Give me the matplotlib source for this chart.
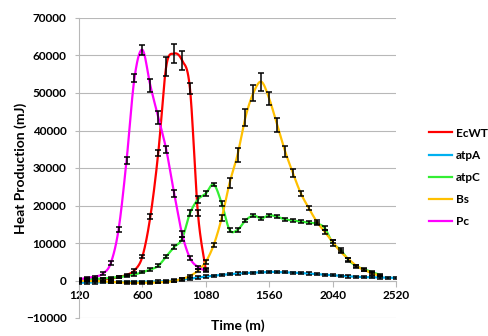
import numpy as np
import matplotlib
matplotlib.use("Agg")
import matplotlib.pyplot as plt

plt.rcParams["font.family"] = ["Lato", "DejaVu Sans"]
plt.rcParams["font.weight"] = "bold"

# sampling times (min), 60 min apart
t_short = list(range(120, 1081, 60))      # EcWT, Pc
t_long = list(range(120, 2401, 60))       # atpC, Bs
t_full = list(range(120, 2521, 60))       # atpA

ecwt = [0, 100, 200, 300, 500, 900, 1500, 2700, 6400, 17000, 34000, 57000,
        60500, 58700, 51200, 18000, 3000]
ecwt_err = [300, 300, 300, 300, 300, 300, 300, 400, 500, 700, 900, 2500,
            2600, 2600, 1500, 900, 400]

pc = [300, 700, 1000, 1800, 4600, 13700, 32000, 54000, 61500, 52000, 43500,
      35000, 23300, 12500, 6000, 3600, 2600]
pc_err = [300, 300, 300, 400, 500, 700, 1000, 1150, 1300, 1850, 1750, 1000,
          900, 800, 500, 400, 400]

atpc = [200, 300, 400, 500, 700, 900, 1200, 1600, 2200, 2900, 3900, 6400,
        8900, 11100, 17900, 21600, 23200, 25600, 20600, 13500, 13500, 16000,
        17300, 16600, 17400, 17000, 16300, 16000, 15700, 15400, 15200, 14000,
        10000, 8200, 5500, 3800, 3000, 2200, 1500]
atpc_err = [300, 300, 300, 300, 300, 300, 300, 300, 300, 400, 400, 500,
            500, 600, 800, 900, 600, 500, 700, 500, 500, 500, 400, 400, 400,
            400, 400, 400, 400, 400, 400, 500, 700, 600, 500, 400, 400, 300, 300]

bs = [0, -100, -200, -300, -400, -500, -600, -600, -600, -600, -500, -400,
      -100, 400, 1200, 2600, 5000, 9500, 16600, 26000, 33500, 43500, 50000,
      53000, 48500, 41500, 34500, 28600, 23200, 19300, 15700, 13000, 10300,
      7700, 5700, 3900, 2800, 1900, 1200]
bs_err = [200, 200, 200, 200, 200, 200, 200, 200, 200, 200, 200, 200,
          200, 300, 300, 400, 500, 600, 800, 1450, 1800, 2200, 2200, 2400,
          1800, 1800, 1500, 1100, 700, 600, 500, 500, 400, 400, 400, 300, 300,
          300, 300]

atpa = [-600, -550, -500, -450, -420, -400, -380, -350, -320, -300, -270, -220,
        0, 250, 500, 800, 1050, 1300, 1500, 1700, 1850, 2000, 2100, 2200, 2300,
        2250, 2200, 2100, 2000, 1850, 1700, 1550, 1400, 1250, 1100, 1000, 900,
        850, 800, 750, 700]
atpa_err = [300] * len(atpa)

series = [
    ("EcWT", t_short, ecwt, ecwt_err, "#ff0000"),
    ("atpA", t_full, atpa, atpa_err, "#00b0f0"),
    ("atpC", t_long, atpc, atpc_err, "#33ee33"),
    ("Bs", t_long, bs, bs_err, "#ffc000"),
    ("Pc", t_short, pc, pc_err, "#ff00ff"),
]

x_ticks = [120, 600, 1080, 1560, 2040, 2520]
y_ticks = list(range(-10000, 70001, 10000))


def smooth(x, y, n=24):
    """Catmull-Rom curve through the points, like Excel's smoothed line."""
    x = np.asarray(x, float)
    y = np.asarray(y, float)
    px = np.concatenate([[x[0]], x, [x[-1]]])
    py = np.concatenate([[y[0]], y, [y[-1]]])
    s = np.linspace(0, 1, n, endpoint=False)
    xs, ys = [], []
    for i in range(1, len(px) - 2):
        for p, out in ((px, xs), (py, ys)):
            p0, p1, p2, p3 = p[i - 1], p[i], p[i + 1], p[i + 2]
            out.append(0.5 * (2 * p1 + (-p0 + p2) * s
                              + (2 * p0 - 5 * p1 + 4 * p2 - p3) * s ** 2
                              + (-p0 + 3 * p1 - 3 * p2 + p3) * s ** 3))
    xs.append([x[-1]])
    ys.append([y[-1]])
    return np.concatenate(xs), np.concatenate(ys)


fig = plt.figure(figsize=(4.89, 3.36), dpi=100)
ax = fig.add_axes([79 / 489, 1 - 318 / 336, 317 / 489, 300 / 336])

for name, t, v, e, c in series:
    sx, sy = smooth(t, v)
    ax.plot(sx, sy, color=c, lw=1.6, label=name, zorder=3)

for name, t, v, e, c in series:
    ax.errorbar(t, v, yerr=e, fmt="none", ecolor="black", elinewidth=1.1,
                capsize=2, capthick=1.1, zorder=4)

ax.set_xlim(120, 2520)
ax.set_ylim(-10000, 70000)
ax.set_xticks(x_ticks)
ax.set_yticks(y_ticks)
ax.yaxis.grid(True, color="#b8b8b8", lw=0.8)
ax.set_axisbelow(True)

for side in ("top", "right"):
    ax.spines[side].set_visible(False)
ax.spines["bottom"].set_position(("data", 0))
ax.spines["bottom"].set_color("#b8b8b8")
ax.spines["left"].set_color("#b8b8b8")
ax.tick_params(axis="x", colors="#b8b8b8", labelcolor="black", length=4,
               labelsize=8.5, pad=3)
ax.tick_params(axis="y", colors="#b8b8b8", labelcolor="black", length=3,
               labelsize=8.5, pad=6)

ax.set_xlabel("Time (m)", fontsize=10, fontweight="bold")
ax.xaxis.set_label_coords(0.5, -0.005)
ax.set_ylabel("Heat Production (mJ)", fontsize=10, fontweight="bold")
ax.yaxis.set_label_coords(-0.165, 0.5)

leg = ax.legend(loc="upper left", bbox_to_anchor=(1.07, 0.67), frameon=False,
                fontsize=8.5, handlelength=2.0, handletextpad=0.3,
                labelspacing=0.95)
for h in leg.get_lines():
    h.set_linewidth(1.6)

fig.savefig("out.png", dpi=100)
